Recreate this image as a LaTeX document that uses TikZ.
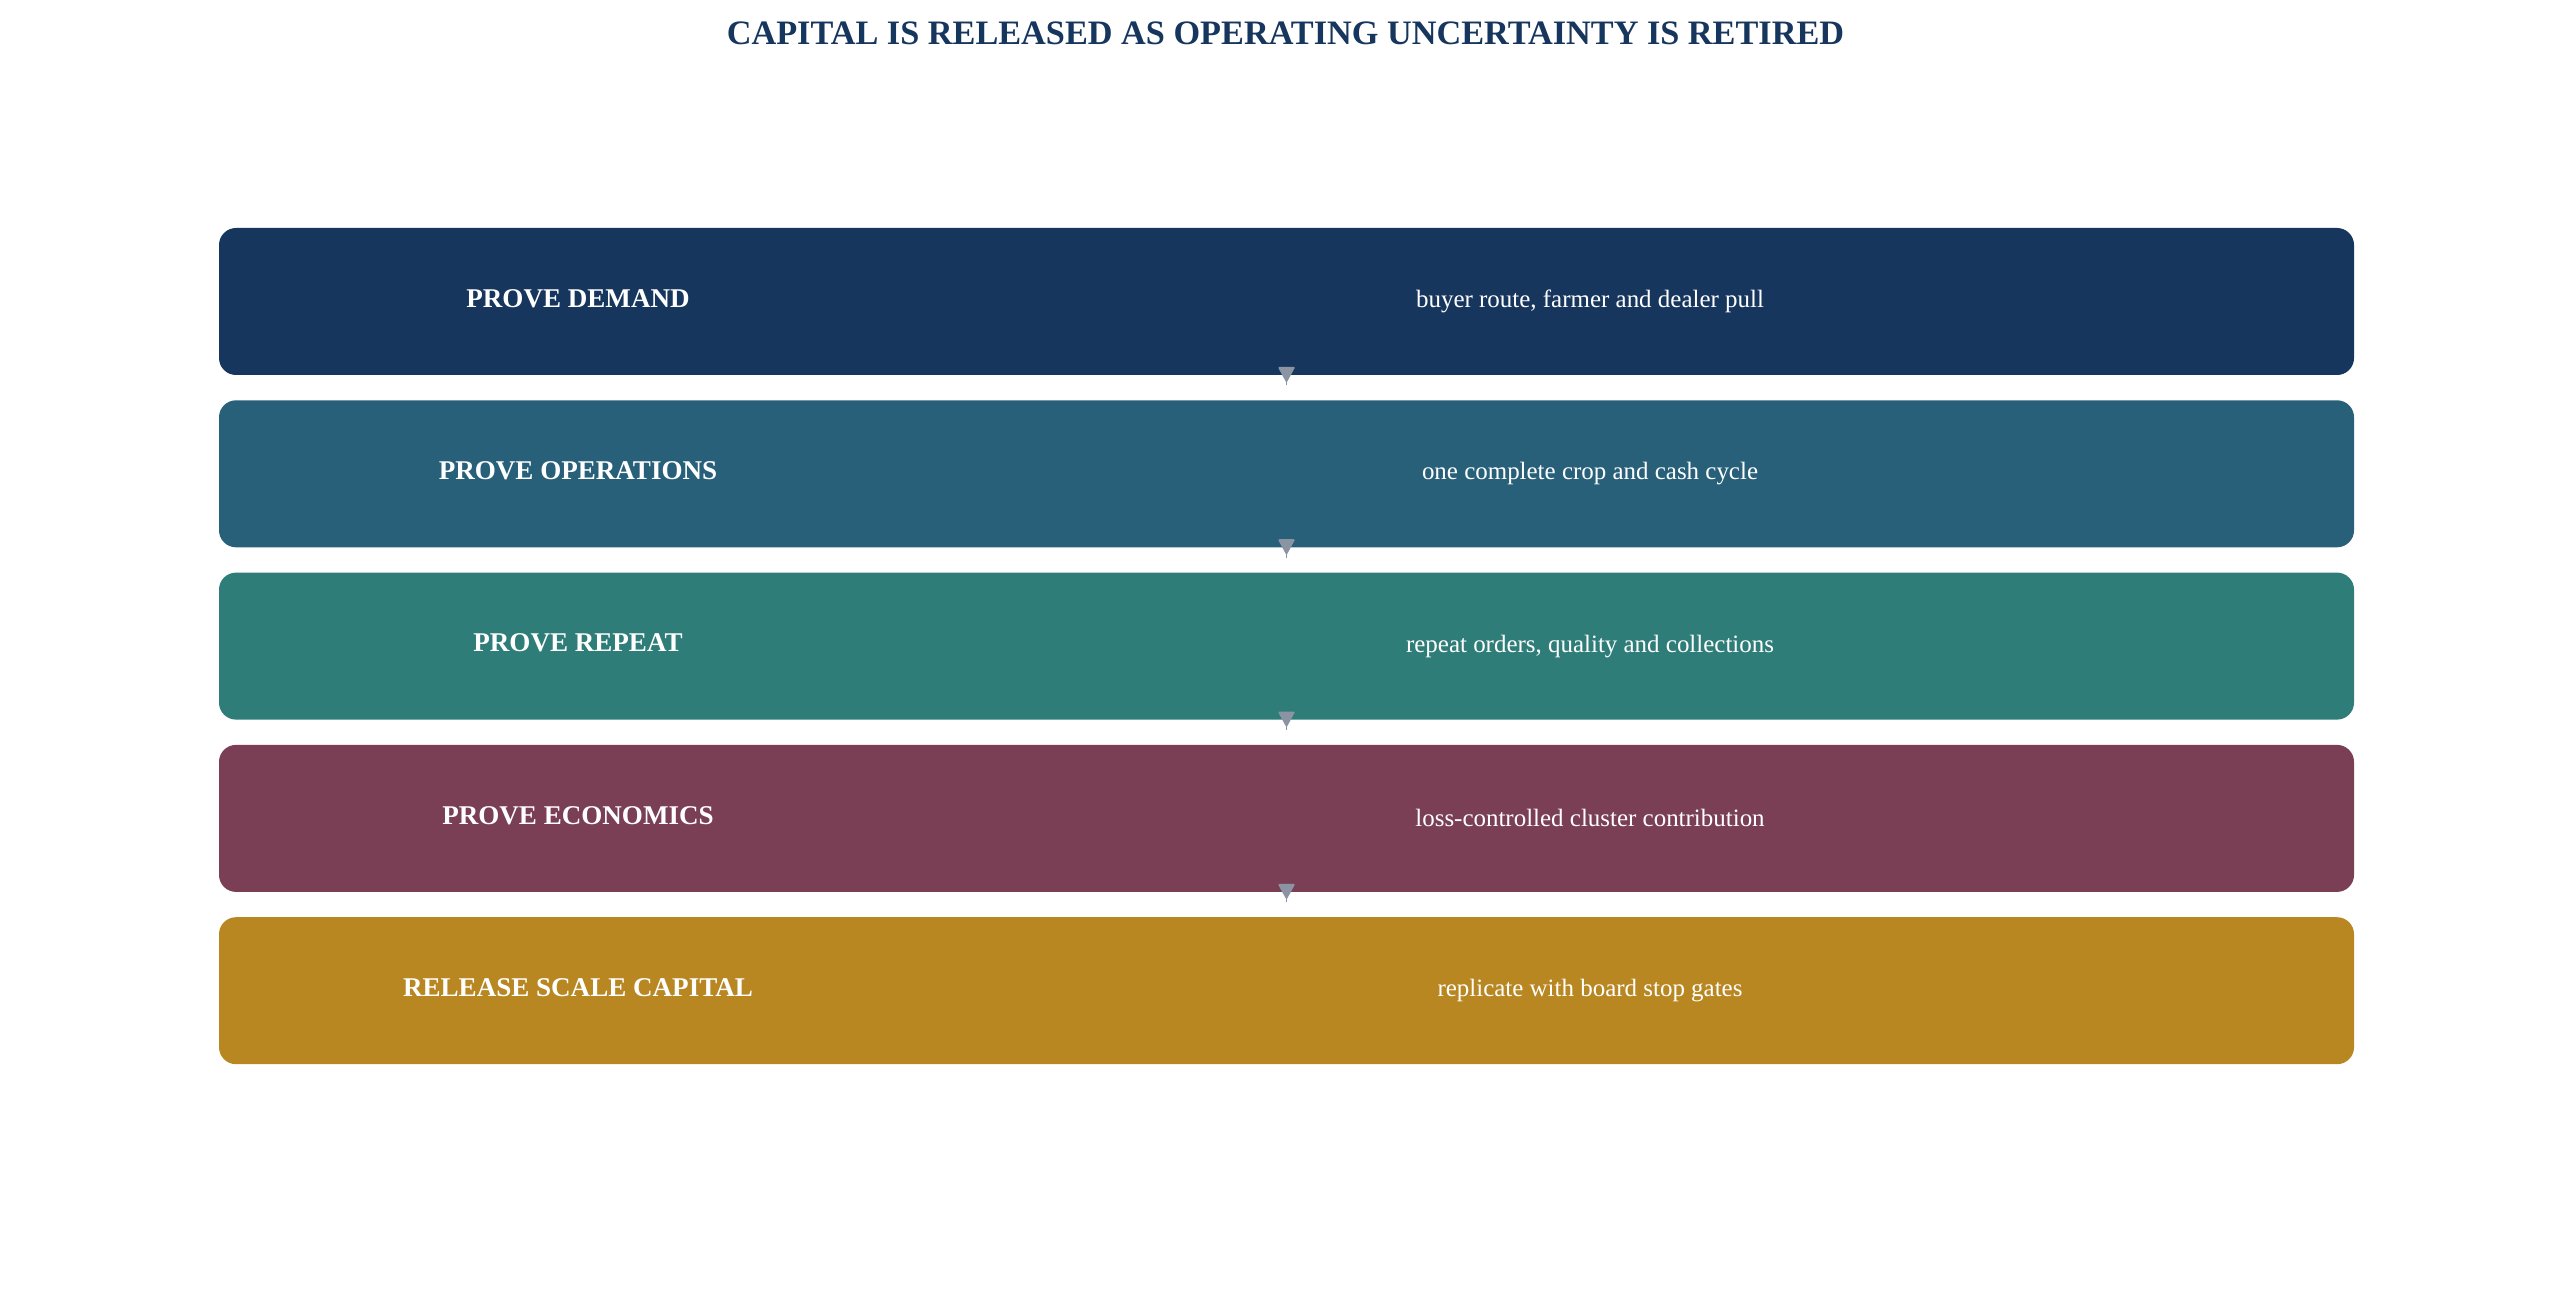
\documentclass[tikz,border=0pt]{standalone}
\usepackage{fontspec}
\setmainfont{Liberation Serif}
\usepackage{xcolor}
\usepackage{tikz}
\usetikzlibrary{arrows.meta}

\definecolor{navy}{HTML}{17365D}
\definecolor{steel}{HTML}{28607A}
\definecolor{teal}{HTML}{2F7D78}
\definecolor{plum}{HTML}{7A3F55}
\definecolor{gold}{HTML}{B88721}
\definecolor{linkgray}{HTML}{8A94A3}

\begin{document}
\begin{tikzpicture}[
  stage/.style={rectangle, rounded corners=3.4mm, draw=none, minimum width=42.7cm, minimum height=2.94cm, inner sep=0pt},
  stagetitle/.style={text=white, font=\fontsize{15.4}{18}\selectfont\bfseries},
  stagenote/.style={text=white, font=\fontsize{14.2}{17}\selectfont},
  link/.style={draw=linkgray, line width=1pt, -{Triangle[length=3.2mm, width=3.4mm, round]}, shorten <=-2mm, shorten >=3.6mm}
]
\useasboundingbox (0,0) rectangle (51.48,-25.96);

% Title
\node[anchor=base, text=navy, font=\fontsize{19.5}{24}\selectfont\bfseries] (title) at (25.71,-0.9) {CAPITAL IS RELEASED AS OPERATING UNCERTAINTY IS RETIRED};

% Stage boxes
\node[stage, fill=navy] (demand) at (25.73,-6.03) {};
\node[stage, fill=steel] (operations) at (25.73,-9.476) {};
\node[stage, fill=teal] (repeat) at (25.73,-12.922) {};
\node[stage, fill=plum] (economics) at (25.73,-16.368) {};
\node[stage, fill=gold] (scale) at (25.73,-19.814) {};

% Stage names
\node[stagetitle] (demandname) at (11.56,-5.97) {PROVE DEMAND};
\node[stagetitle] (operationsname) at (11.56,-9.416) {PROVE OPERATIONS};
\node[stagetitle] (repeatname) at (11.56,-12.862) {PROVE REPEAT};
\node[stagetitle] (economicsname) at (11.56,-16.308) {PROVE ECONOMICS};
\node[stagetitle] (scalename) at (11.56,-19.754) {RELEASE SCALE CAPITAL};

% Stage notes
\node[stagenote] (demandnote) at (31.8,-6.03) {buyer route, farmer and dealer pull};
\node[stagenote] (operationsnote) at (31.8,-9.476) {one complete crop and cash cycle};
\node[stagenote] (repeatnote) at (31.8,-12.922) {repeat orders, quality and collections};
\node[stagenote] (economicsnote) at (31.8,-16.368) {loss-controlled cluster contribution};
\node[stagenote] (scalenote) at (31.8,-19.814) {replicate with board stop gates};

% Connect stages
\draw[link] (demand.south) -- (operations.north);
\draw[link] (operations.south) -- (repeat.north);
\draw[link] (repeat.south) -- (economics.north);
\draw[link] (economics.south) -- (scale.north);

\end{tikzpicture}
\end{document}
